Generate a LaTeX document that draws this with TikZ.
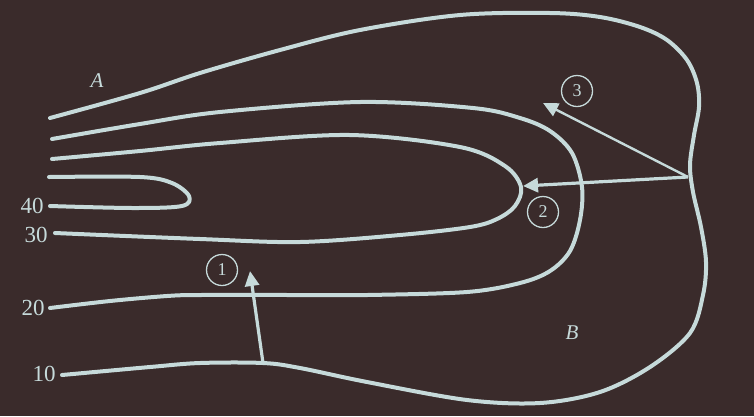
\documentclass[tikz,border=0pt]{standalone}
\usepackage{fontspec}
\setmainfont{Liberation Serif}
\usetikzlibrary{arrows.meta}
\definecolor{bg}{RGB}{58,43,43}
\definecolor{ink}{RGB}{198,218,218}
\begin{document}
\begin{tikzpicture}[x=1pt,y=-1pt,
  contour/.style={draw=ink,line width=4pt,line cap=round,line join=round},
  flow/.style={draw=ink,line width=3.2pt,-{Triangle[length=15pt,width=14pt]}},
  flowthin/.style={draw=ink,line width=2.4pt,-{Triangle[length=15pt,width=14pt]}},
  lvl/.style={text=ink,font=\fontsize{23}{23}\selectfont,inner sep=0pt},
  zone/.style={text=ink,font=\fontsize{21}{21}\selectfont\itshape,inner sep=0pt},
  circ/.style={circle,draw=ink,line width=1.3pt,text=ink,minimum size=31pt,inner sep=0pt,font=\fontsize{18}{18}\selectfont}]
\fill[bg] (0,0) rectangle (754,416);
\useasboundingbox (0,0) rectangle (754,416);
% contour 10
\draw[contour] plot[smooth,tension=0.55] coordinates {(50,118) (140,93) (200,73) (280,50) (360,30) (460,15) (550,13) (600,17) (640,27) (667,40) (687,60) (697,83) (699,107) (694,135) (690,165) (693,192) (701,227) (706,262) (703,295) (690,333) (650,367) (600,392) (540,403) (467,400) (367,382) (300,368) (263,363) (200,363) (150,367) (62,375)};
% contour 20
\draw[contour] plot[smooth,tension=0.55] coordinates {(52,139) (140,124) (220,112) (360,102) (473,108) (520,118) (550,131) (572,153) (582,187) (580,220) (570,251) (550,271) (520,283) (467,292) (367,295) (300,295) (200,295) (167,296) (110,301) (50,308)};
% contour 30
\draw[contour] plot[smooth,tension=0.55] coordinates {(52,159) (140,151) (220,143) (350,135) (460,147) (505,166) (521,187) (515,206) (497,219) (470,227) (400,235) (300,242) (200,239) (55,233)};
% contour 40
\draw[contour] plot[smooth,tension=0.55] coordinates {(49,177) (140,177) (172,183) (189,196) (182,206) (133,208) (50,206)};
% arrows
\coordinate (b1) at (263,363);
\coordinate (t1) at (250,271);
\coordinate (b23) at (688,177);
\coordinate (t2) at (523,186);
\coordinate (t3) at (543,103);
\draw[flow] (b1) -- (t1);
\draw[flow] (b23) -- (t2);
\draw[flowthin] (b23) -- (t3);
% labels
\node[lvl] (l40) at (32,206) {40};
\node[lvl] (l30) at (36,235) {30};
\node[lvl] (l20) at (33,308) {20};
\node[lvl] (l10) at (44,374) {10};
\node[zone] (za) at (97,81) {A};
\node[zone] (zb) at (572,333) {B};
\node[circ] (c1) at (222,270) {1};
\node[circ] (c2) at (543,212) {2};
\node[circ] (c3) at (577,91) {3};
\end{tikzpicture}
\end{document}
